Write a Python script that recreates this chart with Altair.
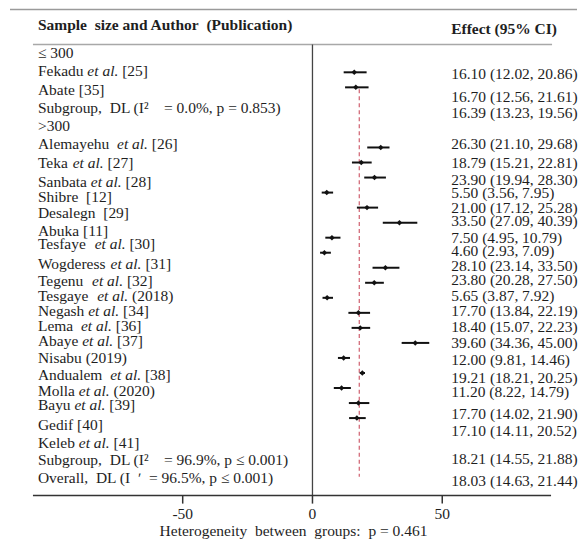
import altair as alt
import pandas as pd

NB = "\u00a0"

# ---------------- data ----------------
left_labels = [
    "≤ 300", "Fekadu et al. [25]", "Abate [35]",
    "Subgroup," + NB + " DL (I²" + NB * 3 + " = 0.0%, p = 0.853)", ">300",
    "Alemayehu" + NB + " et al. [26]", "Teka et al. [27]", "Sanbata et al. [28]",
    "Shibre" + NB + " [12]", "Desalegn" + NB + " [29]", "Abuka [11]",
    "Tesfaye" + NB + " et al. [30]", "Wogderess et al. [31]", "Tegenu" + NB + " et al. [32]",
    "Tesgaye" + NB + " et al. (2018)", "Negash et al. [34]", "Lema" + NB + " et al. [36]",
    "Abaye et al. [37]", "Nisabu (2019)", "Andualem" + NB + " et al. [38]",
    "Molla et al. (2020)", "Bayu et al. [39]", "Gedif [40]", "Keleb et al. [41]",
    "Subgroup," + NB + " DL (I²" + NB * 3 + " = 96.9%, p ≤ 0.001)",
    "Overall," + NB + " DL (I" + NB * 2 + "ʹ" + NB + " = 96.5%, p ≤ 0.001)",
]
left_rows = [-1.26, -0.07, 1.2, 2.39, 3.59, 4.78, 6.04, 7.3, 8.3, 9.36, 10.56, 11.42,
             12.75, 13.88, 14.87, 15.87, 16.87, 17.86, 18.99, 20.12, 21.18, 22.11,
             23.44, 24.63, 25.76, 26.96]

est = [16.10, 16.70, 26.30, 18.79, 23.90, 5.50, 21.00, 33.50, 7.50, 4.60, 28.10,
       23.80, 5.65, 17.70, 18.40, 39.60, 12.00, 19.21, 11.20, 17.70, 17.10]
lo = [12.02, 12.56, 21.10, 15.21, 19.94, 3.56, 17.12, 27.09, 4.95, 2.93, 23.14,
      20.28, 3.87, 13.84, 15.07, 34.36, 9.81, 18.21, 8.22, 14.02, 14.11]
hi = [20.86, 21.61, 29.68, 22.81, 28.30, 7.95, 25.28, 40.39, 10.79, 7.09, 33.50,
      27.50, 7.92, 22.19, 22.23, 45.00, 14.46, 20.25, 14.79, 21.90, 20.52]
study_rows = [0, 1] + list(range(5, 24))

pooled_est = [16.39, 18.21, 18.03]
pooled_lo = [13.23, 14.55, 14.63]
pooled_hi = [19.56, 21.88, 21.44]

right_rows = [0.13, 1.66, 2.72, 4.78, 6.04, 7.17, 8.03, 9.03, 9.89, 11.02, 11.89,
              12.88, 13.81, 14.87, 15.87, 16.93, 18.0, 19.12, 20.32, 21.25, 22.71,
              23.84, 25.7, 27.2]

overall = 18.03
tick_values = [-50, 0, 50]
axis_title = "Heterogeneity" + NB + " between" + NB + " groups:" + NB + " p = 0.461"

# ---------------- layout helpers ----------------
W, H = 570, 536
XMIN = -117.31
PX = 2.6
XMAX = XMIN + W / PX
ROWPX = 15.06
YMIN = -4.18
YMAX = YMIN + H / ROWPX
FONT = "Liberation Serif"
FS = 15.5
TXT = "#1e1e1e"

reg = {' ': 250, NB: 250, 'a': 444, 'b': 500, 'c': 444, 'd': 500, 'e': 444, 'f': 333,
       'g': 500, 'h': 500, 'i': 278, 'j': 278, 'k': 500, 'l': 278, 'm': 778, 'n': 500,
       'o': 500, 'p': 500, 'q': 500, 'r': 333, 's': 389, 't': 278, 'u': 500, 'v': 500,
       'w': 722, 'x': 500, 'y': 500, 'z': 444, 'A': 722, 'B': 667, 'D': 722, 'F': 556,
       'G': 722, 'K': 722, 'L': 611, 'M': 889, 'N': 722, 'S': 556, 'T': 611, 'W': 944,
       '[': 333, ']': 333, '(': 333, ')': 333, '.': 250, ',': 250}
ital = {'e': 444, 't': 278, ' ': 250, 'a': 500, 'l': 278, '.': 250}


def tw(s, table=reg):
    return sum(table.get(c, 500) for c in s) * FS / 1000.0


def px2x(px):
    return XMIN + (px - 8) / PX


def py2row(py):
    return YMIN + (py - 8) / ROWPX


AXIS_ROW = py2row(495)
LEFT_X = px2x(38)
RIGHT_X = px2x(452)

rows = []
for lab, r in zip(left_labels, left_rows):
    if "et al." in lab:
        pre, post = lab.split("et al.")
        x1 = LEFT_X + tw(pre) / PX
        x2 = x1 + tw("et al. ", ital) / PX
        rows.append(dict(x=LEFT_X, y=r, t=pre.strip(), s="normal"))
        rows.append(dict(x=x1, y=r, t="et al.", s="italic"))
        rows.append(dict(x=x2, y=r, t=post.strip(), s="normal"))
    else:
        rows.append(dict(x=LEFT_X, y=r, t=lab, s="normal"))
left_df = pd.DataFrame(rows)

all_est = est[:2] + [pooled_est[0]] + est[2:] + pooled_est[1:]
all_lo = lo[:2] + [pooled_lo[0]] + lo[2:] + pooled_lo[1:]
all_hi = hi[:2] + [pooled_hi[0]] + hi[2:] + pooled_hi[1:]
right_df = pd.DataFrame({
    "x": [RIGHT_X] * len(right_rows),
    "y": right_rows,
    "t": [f"{e:.2f} ({l:.2f}, {h:.2f})" for e, l, h in zip(all_est, all_lo, all_hi)],
})

study_df = pd.DataFrame({"est": est, "lo": lo, "hi": hi, "row": study_rows})

header_df = pd.DataFrame({
    "x": [LEFT_X, RIGHT_X], "y": [-3.12, -2.86],
    "t": ["Sample" + NB + " size and Author" + NB + " (Publication)", "Effect (95% CI)"],
})

tick_df = pd.DataFrame({"v": tick_values, "y": [AXIS_ROW] * 3,
                        "y2": [AXIS_ROW + 8 / ROWPX] * 3,
                        "ly": [py2row(513)] * 3,
                        "t": [f"{v:g}" for v in tick_values]})
title_df = pd.DataFrame({"x": [px2x(294)], "y": [py2row(530)], "t": [axis_title]})

xscale = alt.Scale(domain=[XMIN, XMAX], nice=False, zero=False)
yscale = alt.Scale(domain=[YMIN, YMAX], nice=False, zero=False, reverse=True)


def X(f):
    return alt.X(f, type="quantitative", scale=xscale, axis=None)


def Y(f):
    return alt.Y(f, type="quantitative", scale=yscale, axis=None)


def seg(x, x2, y, y2, color, width, dash=None):
    d = pd.DataFrame({"x": [x], "x2": [x2], "y": [y], "y2": [y2]})
    kw = dict(color=color, strokeWidth=width)
    if dash:
        kw["strokeDash"] = dash
    return alt.Chart(d).mark_rule(**kw).encode(x=X("x"), x2="x2", y=Y("y"), y2="y2")


top_rule = seg(px2x(10), px2x(578), py2row(8), py2row(8), "#9a9a9a", 1.5)
head_rule = seg(px2x(33), px2x(553), py2row(43), py2row(43), "#a8a8a8", 1.5)
zero_line = seg(0, 0, py2row(43), AXIS_ROW, "#444", 1.3)
dash_line = seg(overall, overall, py2row(88), py2row(476), "#cf5f6e", 1.2, [4, 3])
axis_line = seg(px2x(33), px2x(552), AXIS_ROW, AXIS_ROW, "#333", 1.5)

ticks = alt.Chart(tick_df).mark_rule(color="#333", strokeWidth=1.5).encode(
    x=X("v"), y=Y("y"), y2="y2")
tick_labels = alt.Chart(tick_df).mark_text(
    align="center", baseline="middle", font=FONT, fontSize=FS, color=TXT).encode(
    x=X("v"), y=Y("ly"), text="t:N")
title_txt = alt.Chart(title_df).mark_text(
    align="center", baseline="middle", font=FONT, fontSize=FS, color=TXT).encode(
    x=X("x"), y=Y("y"), text="t:N")

ci = alt.Chart(study_df).mark_rule(color="#111", strokeWidth=2).encode(
    x=X("lo"), x2="hi", y=Y("row"))
pts = alt.Chart(study_df).mark_point(shape="diamond", filled=True, size=30, color="#111",
                                     opacity=1).encode(x=X("est"), y=Y("row"))

left_norm = alt.Chart(left_df[left_df.s == "normal"]).mark_text(
    align="left", baseline="middle", font=FONT, fontSize=FS, color=TXT).encode(
    x=X("x"), y=Y("y"), text="t:N")
left_ital = alt.Chart(left_df[left_df.s == "italic"]).mark_text(
    align="left", baseline="middle", font=FONT, fontSize=FS, fontStyle="italic",
    color=TXT).encode(x=X("x"), y=Y("y"), text="t:N")
right_txt = alt.Chart(right_df).mark_text(
    align="left", baseline="middle", font=FONT, fontSize=FS, color=TXT).encode(
    x=X("x"), y=Y("y"), text="t:N")
headers = alt.Chart(header_df).mark_text(
    align="left", baseline="middle", font=FONT, fontSize=FS, fontWeight="bold",
    color=TXT).encode(x=X("x"), y=Y("y"), text="t:N")

chart = alt.layer(
    top_rule, head_rule, zero_line, dash_line, axis_line, ticks, tick_labels, title_txt,
    ci, pts, left_norm, left_ital, right_txt, headers,
).properties(width=W, height=H, padding=0, background="white").configure_view(stroke=None)

chart.save("out.html", embed_options={"renderer": "svg", "actions": False})
